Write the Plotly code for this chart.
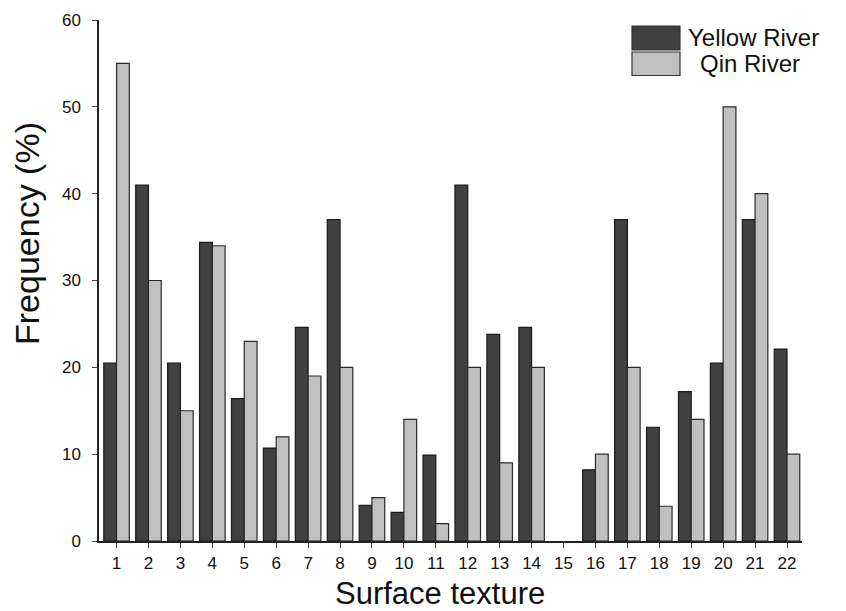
import plotly.graph_objects as go

categories = [str(i) for i in range(1, 23)]
yellow_river = [20.5, 41, 20.5, 34.4, 16.4, 10.7, 24.6, 37, 4.1, 3.3, 9.9,
                41, 23.8, 24.6, 0, 8.2, 37, 13.1, 17.2, 20.5, 37, 22.1]
qin_river = [55, 30, 15, 34, 23, 12, 19, 20, 5, 14, 2,
             20, 9, 20, 0, 10, 20, 4, 14, 50, 40, 10]
y_ticks = [0, 10, 20, 30, 40, 50, 60]

FONT = "Liberation Sans, Arial, sans-serif"
DARK = "#404040"
LIGHT = "#c0c0c0"

def outline_widths(values):
    return [1.2 if v > 0 else 0 for v in values]

fig = go.Figure()
fig.add_trace(go.Bar(x=categories, y=yellow_river, name="Yellow River",
                     marker=dict(color=DARK, line=dict(color="#1a1a1a",
                                                      width=outline_widths(yellow_river)))))
fig.add_trace(go.Bar(x=categories, y=qin_river, name="Qin River",
                     marker=dict(color=LIGHT, line=dict(color="#2a2a2a",
                                                       width=outline_widths(qin_river)))))

fig.update_layout(
    width=846, height=611,
    margin=dict(l=99, r=44, t=20, b=70),
    paper_bgcolor="white", plot_bgcolor="white",
    barmode="group", bargap=0.2, bargroupgap=0,
    showlegend=False,
    font=dict(family=FONT, color="#111"),
)
fig.update_xaxes(
    type="category", range=[-0.55, 21.47],
    showline=True, linecolor="#222", linewidth=1.5,
    ticks="outside", ticklen=5, tickcolor="#444", tickwidth=1,
    tickfont=dict(size=17, family=FONT, color="#111"),
    ticklabelstandoff=1, showgrid=False, zeroline=False,
)
fig.update_yaxes(
    range=[0, 60], tickvals=y_ticks,
    showline=True, linecolor="#222", linewidth=1.5,
    ticks="outside", ticklen=5, tickcolor="#444", tickwidth=1,
    tickfont=dict(size=17, family=FONT, color="#111"),
    ticklabelstandoff=8, showgrid=False, zeroline=False,
)

# axis titles
fig.add_annotation(text="Frequency (%)", xref="paper", yref="paper",
                   x=(27 - 99) / 703, y=(541 - 234) / 521, textangle=-90,
                   showarrow=False, xanchor="center", yanchor="middle",
                   font=dict(size=34, family=FONT, color="#111"))
fig.add_annotation(text="Surface texture", xref="paper", yref="paper",
                   x=(440 - 99) / 703, y=(541 - 593) / 521,
                   showarrow=False, xanchor="center", yanchor="middle",
                   font=dict(size=31, family=FONT, color="#111"))

# custom legend
def px_x(p):
    return (p - 99) / 703

def px_y(p):
    return (541 - p) / 521

legend_items = [("Yellow River", DARK, 26, 50, 687),
                ("Qin River", LIGHT, 52, 75.5, 699)]
for label, color, y0, y1, tx in legend_items:
    fig.add_shape(type="rect", xref="paper", yref="paper",
                  x0=px_x(632), x1=px_x(680), y0=px_y(y1), y1=px_y(y0),
                  fillcolor=color, line=dict(color="#333", width=1.2))
    fig.add_annotation(text=label, xref="paper", yref="paper",
                       x=px_x(tx), y=px_y((y0 + y1) / 2),
                       xanchor="left", yanchor="middle", showarrow=False,
                       borderpad=0,
                       font=dict(size=24, family=FONT, color="#111"))

fig.write_html("out.html")
